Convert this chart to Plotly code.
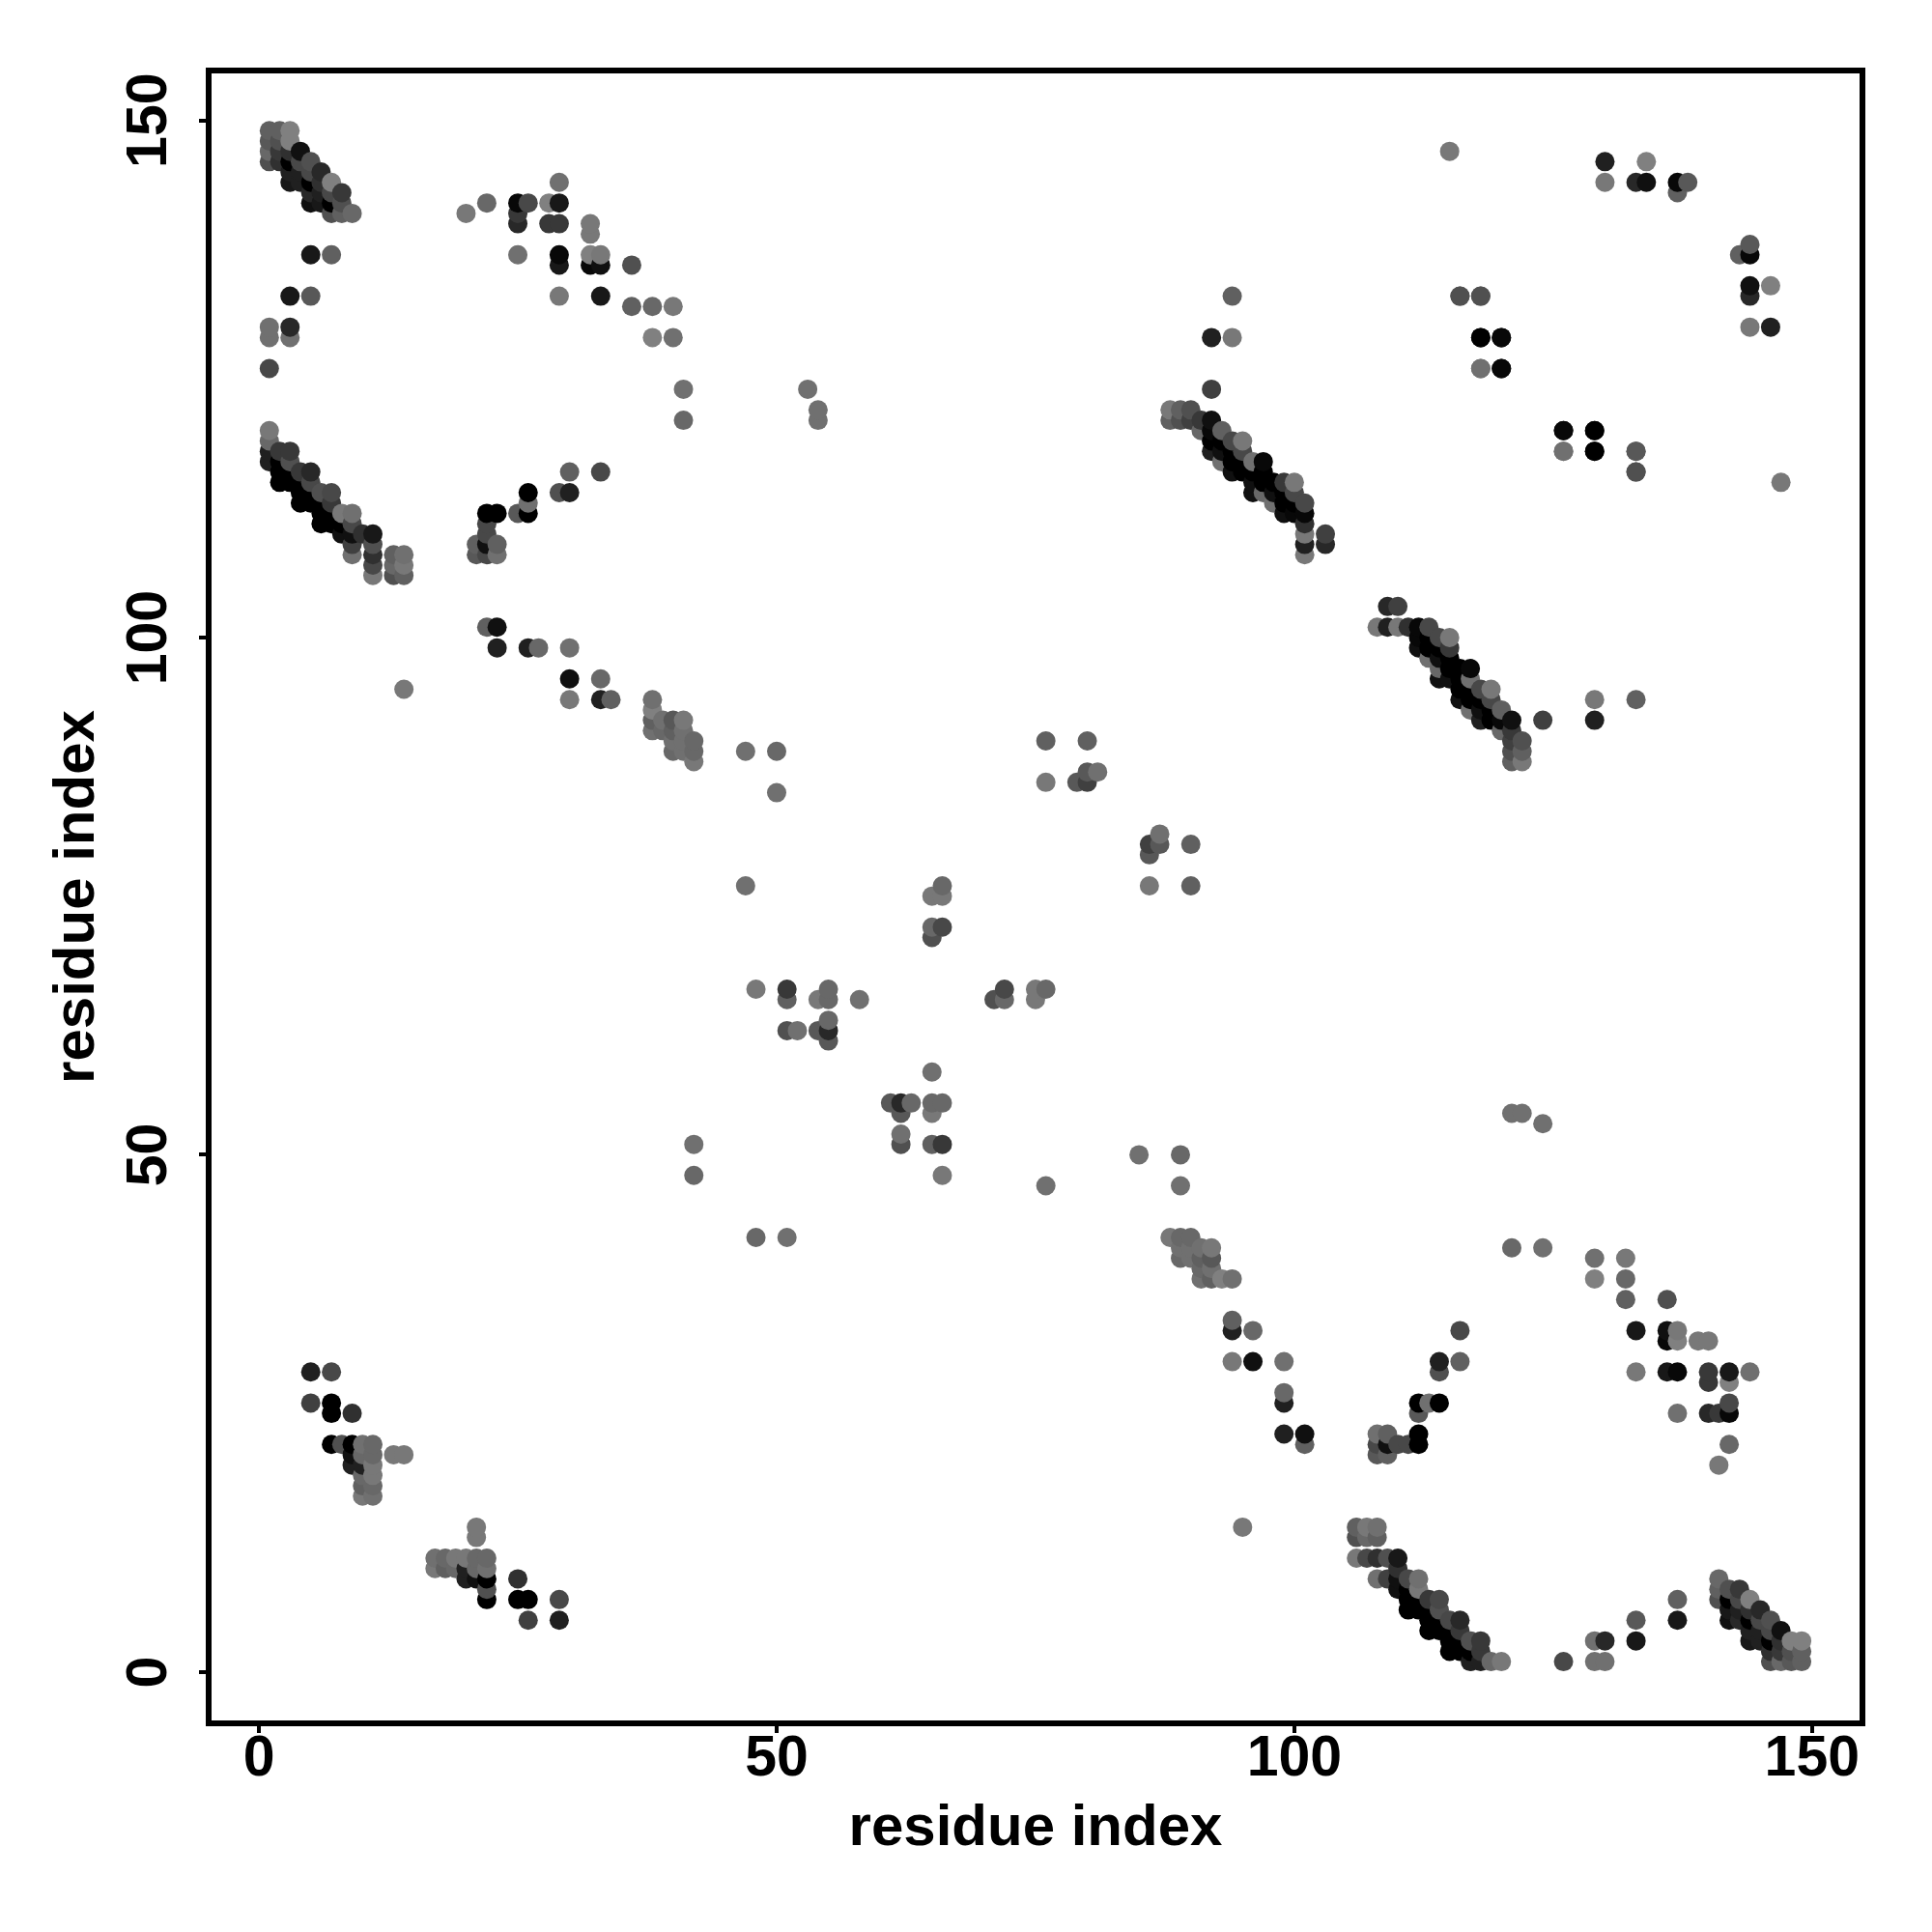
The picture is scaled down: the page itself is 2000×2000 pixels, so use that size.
import plotly.graph_objects as go
import pandas as pd

# Symmetric contact map: each contact (i, j) with i < j is drawn at (i, j) and (j, i).
contact_i = [
 1,2,3, 1,2,3, 1,2,3,4, 1,2,3,4,5, 3,4,5,6, 3,4,5,6,7, 5,6,7,8, 5,6,7,8, 7,8,9,
 5,7,3,5,1,3,1,3,1,
 20,22,25,26,28,29,29,25,25,28,29,32,32,25,29,29,32,33,32,33,36,29,33,36,38,40,38,40,41,41,53,54,54,
 1,1,1,1,2,3,2,3,2,3,4,5,2,3,4,5,4,5,6,7,4,5,6,7,6,7,8,9,6,7,8,9,8,9,10,11,9,11,9,11,11,11,13,13,13,14,14,14,
 5,7,5,7,7,9,7,8,9,10,11,9,10,11,13,14,9,10,11,10,11,10,11,10,11,
 22,23,22,22,21,22,23,21,22,23,26,26,26,25,29,30,30,33,14,22,23,23,26,27,30,30,33,30,33,34,
 38,38,38,38,39,39,40,41,40,41,40,41,42,40,41,42,42,47,50,50,
 47,48,51,51,51,52,54,55,55,58,54,55,55,55,66,65,66,65,66,65,42,42,
 76,80,76,79,80,80,81,
 92,88,89,90,88,89,90,91,92,91,92,93,92,93,94,95,92,93,94,95,93,94,95,96,97,94,95,96,97,96,97,98,99,100,
 96,97,98,99,100,98,99,100,101,99,100,101,101,101,101,101,103,103,
 92,94,94,
 115,130,130,134,133,134,137,138,137,116,118,118,120,118,120,126,129,126,129,133,133,
]
contact_j = [
 149,149,149, 148,148,148, 147,147,147,147, 146,146,146,146,146, 145,145,145,145, 144,144,144,144,144, 143,143,143,143, 142,142,142,142, 141,141,141,
 137,137,133,133,130,130,129,129,126,
 141,142,142,142,142,142,144,141,140,140,140,140,139,137,137,136,137,137,136,136,136,133,133,132,132,132,129,129,124,121,124,122,121,
 120,119,118,117,118,118,117,117,116,116,116,116,115,115,115,115,114,114,114,114,113,113,113,113,112,112,112,112,111,111,111,111,110,110,110,110,109,109,108,108,107,106,108,107,106,108,107,106,
 29,29,26,26,25,25,22,22,22,22,22,21,21,21,21,21,20,20,20,19,19,18,18,17,17,
 112,112,111,110,109,109,109,108,108,108,114,113,112,112,114,114,116,116,95,101,101,99,99,99,99,96,96,94,94,94,
 94,93,92,91,92,91,92,92,91,91,90,90,90,89,89,89,88,89,89,85,
 76,66,66,65,62,62,65,66,65,65,62,63,62,61,76,75,75,72,72,71,51,48,
 90,90,86,86,86,87,87,
 124,122,122,122,121,121,121,121,121,120,120,120,119,119,119,119,118,118,118,118,117,117,117,117,117,116,116,116,116,115,115,115,115,115,
 114,114,114,114,114,113,113,113,113,112,112,112,111,110,109,108,110,109,
 129,129,133,
 147,146,144,146,144,144,144,144,143,133,133,129,129,126,126,120,120,118,118,118,116,
]
contact_gray = [
 0x60,0x60,0x80, 0x58,0x50,0x80, 0x68,0x38,0x30,0x10, 0x50,0x30,0x00,0x48,0x50, 0x20,0x20,0x48,0x28, 0x18,0x20,0x00,0x30,0x80, 0x28,0x20,0x48,0x38, 0x10,0x18,0x00,0x50, 0x50,0x60,0x68,
 0x18,0x60,0x18,0x58,0x70,0x28,0x70,0x70,0x48,
 0x78,0x68,0x08,0x48,0x80,0x18,0x70,0x38,0x28,0x38,0x38,0x78,0x78,0x70,0x08,0x18,0x80,0x78,0x08,0x10,0x50,0x78,0x18,0x60,0x68,0x78,0x80,0x70,0x70,0x68,0x70,0x70,0x70,
 0x78,0x68,0x20,0x20,0x38,0x38,0x00,0x50,0x00,0x00,0x38,0x28,0x00,0x00,0x00,0x48,0x00,0x00,0x50,0x48,0x00,0x00,0x00,0x38,0x00,0x00,0x78,0x70,0x00,0x00,0x00,0x48,0x10,0x10,0x30,0x18,0x40,0x50,0x70,0x30,0x48,0x78,0x60,0x68,0x50,0x70,0x78,0x60,
 0x20,0x48,0x40,0x00,0x00,0x30,0x00,0x50,0x00,0x70,0x68,0x10,0x68,0x68,0x78,0x78,0x20,0x20,0x78,0x68,0x78,0x60,0x68,0x78,0x70,
 0x00,0x00,0x48,0x48,0x60,0x10,0x60,0x58,0x48,0x70,0x00,0x70,0x00,0x58,0x50,0x20,0x60,0x48,0x78,0x60,0x10,0x20,0x20,0x68,0x70,0x10,0x68,0x78,0x20,0x60,
 0x70,0x80,0x60,0x70,0x70,0x68,0x58,0x78,0x60,0x70,0x70,0x70,0x68,0x68,0x70,0x68,0x78,0x70,0x68,0x70,
 0x70,0x78,0x38,0x60,0x50,0x70,0x78,0x68,0x68,0x70,0x58,0x68,0x28,0x58,0x68,0x78,0x78,0x68,0x48,0x50,0x70,0x68,
 0x60,0x60,0x78,0x58,0x40,0x58,0x70,
 0x40,0x78,0x60,0x50,0x60,0x50,0x40,0x38,0x10,0x68,0x08,0x60,0x00,0x00,0x48,0x78,0x20,0x10,0x00,0x48,0x70,0x00,0x00,0x70,0x08,0x10,0x00,0x00,0x00,0x10,0x00,0x00,0x38,0x78,
 0x10,0x68,0x10,0x00,0x48,0x70,0x00,0x00,0x48,0x10,0x08,0x08,0x30,0x78,0x20,0x78,0x40,0x28,
 0x20,0x78,0x60,
 0x78,0x20,0x78,0x80,0x28,0x10,0x08,0x58,0x60,0x50,0x58,0x00,0x00,0x70,0x08,0x08,0x08,0x70,0x00,0x50,0x50,
]
assert len(contact_i) == len(contact_j) == len(contact_gray), (len(contact_i), len(contact_j), len(contact_gray))

x_ticks = [0, 50, 100, 150]
y_ticks = [0, 50, 100, 150]
axis_label = "residue index"

df = pd.DataFrame({
    "x": contact_i + contact_j,
    "y": contact_j + contact_i,
    "g": contact_gray + contact_gray,
}).sort_values(["x", "y"], kind="stable")

fig = go.Figure(go.Scatter(
    x=df["x"], y=df["y"], mode="markers",
    marker=dict(size=20, line=dict(width=0),
                color=[f"rgb({v},{v},{v})" for v in df["g"]]),
    hoverinfo="skip", showlegend=False,
))

TICK_FONT = dict(family="Liberation Sans", size=59, color="black", weight="bold")
TITLE_FONT = dict(family="Liberation Sans", size=60, color="black", weight="bold")
common = dict(showgrid=False, zeroline=False, showline=True, mirror=True,
              linecolor="black", linewidth=6, ticks="outside", ticklen=7,
              tickwidth=4, tickcolor="black", tickfont=TICK_FONT)
fig.update_xaxes(range=[-4.58, 154.59], tickvals=x_ticks, ticktext=[str(t) for t in x_ticks],
                 ticklabelstandoff=-27,
                 title=dict(text=axis_label, font=TITLE_FONT, standoff=20), **common)
fig.update_yaxes(range=[-4.686, 154.53], tickvals=y_ticks, ticktext=[str(t) for t in y_ticks],
                 tickangle=-90, ticklabelstandoff=10, ticklabelshift=9,
                 title=dict(text=axis_label, font=TITLE_FONT, standoff=4), **common)
fig.update_layout(width=2000, height=2000, autosize=False, paper_bgcolor="white", plot_bgcolor="white",
                  margin=dict(l=211.2, r=82.5, t=67.5, b=226.8, pad=0))
fig.write_html("out.html")
